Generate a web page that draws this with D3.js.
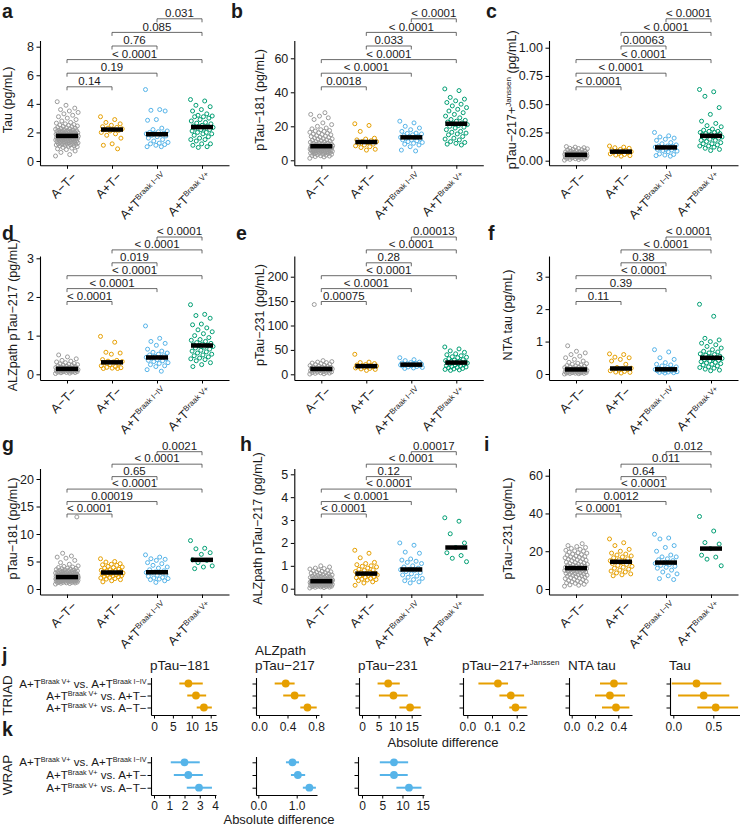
<!DOCTYPE html>
<html>
<head>
<meta charset="utf-8">
<script src="https://cdn.jsdelivr.net/npm/d3@7/dist/d3.min.js"></script>
<style>
html,body{margin:0;padding:0;background:#fff;}
svg{display:block;}
text{font-family:"Liberation Sans",Arial,Helvetica,sans-serif;fill:#1a1a1a;}
</style>
</head>
<body>
<svg id="fig" width="740" height="827"></svg>
<script>
// ================= DATA =================
const groupBase = ["A−T−", "A+T−", "A+T", "A+T"];
const groupSup  = ["", "", "Braak I−IV", "Braak V+"];
const comparisons = [[0,1],[0,2],[0,3],[1,2],[1,3],[2,3]];

// a: Tau (TRIAD)
const tauTicks = [0,2,4,6,8];
const tauATneg = [0.35,0.45,0.6,0.7,0.8,0.85,0.9,0.95,1.0,1.03,1.05,1.08,1.1,1.12,1.13,1.15,1.17,1.18,1.2,1.22,1.25,1.27,1.28,1.3,1.32,1.33,1.35,1.36,1.38,1.4,1.42,1.44,1.45,1.46,1.47,1.48,1.5,1.52,1.53,1.55,1.56,1.57,1.58,1.6,1.61,1.62,1.63,1.64,1.66,1.67,1.68,1.69,1.7,1.71,1.72,1.73,1.74,1.75,1.76,1.77,1.78,1.79,1.8,1.81,1.82,1.83,1.84,1.86,1.87,1.88,1.9,1.91,1.92,1.94,1.95,1.97,1.98,2.0,2.02,2.03,2.05,2.07,2.08,2.1,2.12,2.13,2.15,2.18,2.2,2.22,2.25,2.28,2.3,2.32,2.35,2.4,2.42,2.45,2.5,2.52,2.55,2.6,2.65,2.7,2.8,2.9,3.0,3.1,3.2,3.3,3.4,3.5,3.6,3.7,3.9,4.15];
const tauAposTneg = [3.1,2.9,2.7,2.6,2.5,2.4,2.35,2.3,2.25,2.2,2.2,2.15,2.1,2.0,1.9,1.8,1.6,1.2,1.1,0.85];
const tauBraak14 = [5.0,3.6,3.55,3.5,2.9,2.85,2.3,2.2,2.1,2.05,2.0,1.95,1.9,1.9,1.85,1.8,1.75,1.7,1.6,1.5,1.4,1.3,1.25,1.2,1.15,1.1,1.0,1.0];
const tauBraak5 = [4.3,4.2,3.9,3.8,3.6,3.5,3.3,3.2,3.15,3.1,3.1,3.0,2.9,2.8,2.7,2.65,2.6,2.5,2.45,2.4,2.4,2.35,2.3,2.3,2.2,2.2,2.1,2.0,2.0,1.9,1.9,1.8,1.7,1.6,1.5,1.5,1.4,1.2,1.2,1.1,1.0,0.95];
const tauP = ["0.14","0.19","< 0.0001","0.76","0.085","0.031"];

// b: pTau-181 (TRIAD)
const p181Ticks = [0,20,40,60];
const p181ATneg = [1.2,2,2.2,2.5,2.7,2.8,3,3.3,3.5,3.6,3.8,4,4.1,4.2,4.4,4.5,4.6,4.8,5,5.1,5.2,5.3,5.4,5.5,5.6,5.7,5.8,5.9,6,6.1,6.2,6.3,6.4,6.5,6.6,6.7,6.8,6.9,7,7.1,7.2,7.3,7.4,7.5,7.6,7.7,7.8,7.9,8,8.1,8.2,8.25,8.3,8.4,8.5,8.6,8.7,8.8,9,9.1,9.2,9.4,9.5,9.6,9.8,10,10.1,10.3,10.6,10.8,11,11.3,11.6,11.8,12,12.4,12.6,12.8,13.2,13.4,13.6,14,14.2,14.5,15,15.2,15.5,16,16.2,16.5,17,17.2,17.5,18,18.5,19,20,21,22,24,25,26,27,28];
const p181AposTneg = [21.5,20.5,17,13,12.5,12,11.5,11,11,10.5,10,9.5,9,8.5,8,7.5,6.5,6];
const p181Braak14 = [23,22,20,19,18,17,16,15.8,15.5,15,14.5,14,14,13.5,13.5,13,12.5,12,12,11.5,11,10.5,10,9.5,9,8,6,5.5];
const p181Braak5 = [42,41,37,36,35,34,33,32,31,30,29,28,27,26,25,24,23.5,23,22.5,22,21.5,21,20.5,20,19.5,19,18,17,16.5,16,15.5,15,14,13,12.5,12,11,10.5,10,9.5,9];
const p181P = ["0.0018","< 0.0001","< 0.0001","0.033","< 0.0001","< 0.0001"];

// c: pTau-217+Janssen (TRIAD)
const jansTicks = [0,0.25,0.5,0.75,1];
const jansATneg = [0.005,0.01,0.012,0.015,0.018,0.02,0.022,0.025,0.027,0.028,0.03,0.032,0.034,0.035,0.036,0.038,0.039,0.04,0.041,0.042,0.043,0.044,0.045,0.046,0.047,0.048,0.049,0.05,0.05,0.051,0.052,0.053,0.054,0.055,0.056,0.057,0.058,0.06,0.061,0.062,0.064,0.066,0.067,0.068,0.07,0.073,0.076,0.078,0.08,0.085,0.088,0.09,0.095,0.098,0.1,0.105,0.108,0.11,0.115,0.12,0.125];
const jansAposTneg = [0.13,0.12,0.115,0.11,0.1,0.095,0.09,0.085,0.08,0.08,0.075,0.07,0.065,0.06,0.055,0.05,0.045,0.04];
const jansBraak14 = [0.25,0.22,0.21,0.2,0.19,0.18,0.16,0.15,0.14,0.13,0.13,0.125,0.12,0.12,0.115,0.11,0.11,0.1,0.1,0.095,0.09,0.085,0.08,0.06,0.055,0.05,0.045,0.04];
const jansBraak5 = [0.63,0.61,0.57,0.47,0.41,0.35,0.33,0.31,0.3,0.28,0.27,0.26,0.26,0.25,0.25,0.24,0.24,0.23,0.23,0.22,0.22,0.21,0.21,0.2,0.2,0.19,0.18,0.18,0.17,0.16,0.15,0.15,0.14,0.13,0.13,0.12,0.11,0.1,0.09];
const jansP = ["< 0.0001","< 0.0001","< 0.0001","0.00063","< 0.0001","< 0.0001"];

// d: ALZpath pTau-217 (TRIAD)
const alzTicks = [0,1,2,3];
const alzATneg = [0.02,0.03,0.04,0.045,0.05,0.055,0.06,0.065,0.07,0.075,0.075,0.08,0.085,0.09,0.095,0.095,0.1,0.105,0.11,0.11,0.115,0.12,0.125,0.125,0.13,0.135,0.14,0.145,0.15,0.15,0.155,0.16,0.165,0.17,0.175,0.18,0.19,0.2,0.21,0.22,0.23,0.24,0.25,0.26,0.27,0.28,0.3,0.32,0.34,0.36,0.4,0.45,0.5];
const alzAposTneg = [0.98,0.83,0.57,0.55,0.52,0.38,0.36,0.34,0.33,0.32,0.3,0.28,0.25,0.22,0.2,0.18,0.17,0.16,0.15,0.15];
const alzBraak14 = [1.25,0.93,0.85,0.8,0.75,0.65,0.6,0.57,0.55,0.52,0.5,0.48,0.46,0.44,0.43,0.42,0.4,0.38,0.36,0.35,0.33,0.3,0.28,0.25,0.22,0.2,0.12,0.08];
const alzBraak5 = [1.8,1.55,1.52,1.45,1.3,1.28,1.2,1.15,1.1,1.05,1.0,0.95,0.9,0.88,0.85,0.82,0.8,0.78,0.76,0.75,0.74,0.72,0.7,0.68,0.65,0.62,0.6,0.58,0.55,0.52,0.5,0.48,0.45,0.42,0.4,0.38,0.35,0.3,0.25,0.2];
const alzP = ["< 0.0001","< 0.0001","< 0.0001","0.019","< 0.0001","< 0.0001"];

// e: pTau-231 (TRIAD)
const p231Ticks = [0,50,100,150,200];
const p231ATneg = [0.5,1,2,2.5,3,3.5,4,4.5,5,5.5,6,6.5,7,7.5,8,8.5,9,9.5,10,10.3,10.6,11,11,11.4,11.8,12,12.5,13,13.5,14,14.5,15,16,17,18,19,20,21,22,23,24,25,26,28,143];
const p231AposTneg = [41,25,24,22,20,19,18,17.5,17,16.5,16,15,14,13,12,11,10,8];
const p231Braak14 = [34,30,28,25,24,23,22,21.5,21,20.8,20.5,20,19.5,19,19,18.5,18,17.5,17,16,15,14,13,12];
const p231Braak5 = [56,52,48,45,42,40,38,36,35,34,32,30,29,28,27,26,25,24.5,24,24,23.5,23,22,21,20,19,18,17,16,15,14,13,12,11,10,9,8];
const p231P = ["0.00075","< 0.0001","< 0.0001","0.28","< 0.0001","0.00013"];

// f: NTA tau (TRIAD)
const ntaTicks = [0,1,2,3];
const ntaATneg = [0,0.01,0.015,0.02,0.025,0.03,0.035,0.04,0.045,0.05,0.055,0.06,0.065,0.07,0.075,0.08,0.085,0.09,0.095,0.1,0.105,0.11,0.12,0.12,0.13,0.14,0.14,0.15,0.15,0.16,0.17,0.17,0.18,0.19,0.2,0.21,0.22,0.24,0.25,0.26,0.28,0.3,0.32,0.33,0.36,0.4,0.45,0.5,0.55,0.6,0.65,0.7,0.87];
const ntaAposTneg = [0.62,0.6,0.52,0.5,0.45,0.4,0.3,0.2,0.18,0.16,0.15,0.14,0.12,0.1,0.08,0.06,0.05,0.03];
const ntaBraak14 = [0.75,0.68,0.5,0.45,0.35,0.3,0.28,0.25,0.22,0.2,0.18,0.16,0.15,0.14,0.14,0.13,0.12,0.11,0.1,0.09,0.08,0.07,0.06,0.05,0.04,0.03];
const ntaBraak5 = [2.15,1.78,1.1,1.05,1.0,0.95,0.9,0.85,0.8,0.75,0.7,0.68,0.65,0.62,0.6,0.58,0.55,0.53,0.52,0.5,0.5,0.48,0.46,0.44,0.42,0.4,0.38,0.36,0.34,0.32,0.3,0.28,0.25,0.22,0.2,0.18,0.15,0.12,0.1];
const ntaP = ["0.11","0.39","< 0.0001","0.38","< 0.0001","< 0.0001"];

// g: pTau-181 (WRAP)
const wp181Ticks = [0,5,10,15,20];
const wp181ATneg = [0.9,1.0,1.05,1.1,1.12,1.15,1.2,1.22,1.25,1.28,1.3,1.35,1.38,1.4,1.42,1.45,1.48,1.5,1.5,1.52,1.55,1.58,1.6,1.6,1.62,1.65,1.68,1.7,1.7,1.72,1.75,1.78,1.8,1.8,1.82,1.85,1.87,1.88,1.9,1.9,1.92,1.93,1.95,1.97,1.98,2.0,2.0,2.0,2.02,2.03,2.05,2.07,2.08,2.1,2.1,2.1,2.12,2.13,2.15,2.17,2.18,2.2,2.2,2.23,2.25,2.27,2.28,2.3,2.3,2.33,2.35,2.38,2.4,2.42,2.45,2.48,2.5,2.52,2.55,2.58,2.6,2.62,2.65,2.7,2.72,2.75,2.8,2.85,2.88,2.9,2.95,3.0,3.05,3.1,3.15,3.2,3.25,3.3,3.35,3.4,3.45,3.5,3.55,3.6,3.7,3.75,3.8,3.9,4.0,4.1,4.2,4.5,4.8,5.2,5.6,5.8,6.0,6.5,13.1];
const wp181AposTneg = [5.5,5.0,4.9,4.6,4.5,4.4,4.3,4.1,4.0,3.9,3.8,3.6,3.5,3.4,3.35,3.3,3.2,3.15,3.1,3.0,3.0,2.9,2.9,2.8,2.8,2.75,2.7,2.6,2.5,2.45,2.4,2.3,2.2,2.1,2.0,1.9,1.8,1.7,1.5,1.3];
const wp181Braak14 = [6.2,5.8,5.5,5.4,5.2,4.8,4.6,4.3,4.0,3.8,3.5,3.3,3.1,3.0,3.0,2.9,2.7,2.5,2.3,2.1,2.0,1.9,1.8,1.7,1.5,1.2];
const wp181Braak5 = [8.8,7.4,7.3,6.6,6.3,5.3,5.2,4.8,4.2,4.0,3.7];
const wp181P = ["< 0.0001","0.00019","< 0.0001","0.65","< 0.0001","0.0021"];

// h: ALZpath pTau-217 (WRAP)
const walzTicks = [0,1,2,3,4,5];
const walzATneg = [0.03,0.05,0.06,0.07,0.08,0.09,0.095,0.1,0.11,0.12,0.125,0.13,0.135,0.14,0.15,0.155,0.16,0.165,0.17,0.18,0.185,0.19,0.195,0.2,0.21,0.215,0.22,0.225,0.23,0.24,0.245,0.25,0.255,0.26,0.27,0.275,0.28,0.285,0.29,0.3,0.3,0.305,0.31,0.315,0.32,0.32,0.325,0.33,0.335,0.34,0.345,0.35,0.36,0.365,0.37,0.375,0.38,0.39,0.395,0.4,0.41,0.42,0.43,0.44,0.45,0.46,0.47,0.48,0.49,0.5,0.52,0.53,0.54,0.55,0.57,0.58,0.6,0.62,0.63,0.65,0.66,0.68,0.7,0.72,0.74,0.76,0.78,0.8,0.82,0.86,0.88,0.9,0.95,1.0];
const walzAposTneg = [1.68,1.55,1.35,1.15,1.1,1.05,1.0,0.98,0.95,0.9,0.85,0.82,0.8,0.75,0.72,0.7,0.68,0.66,0.65,0.64,0.62,0.6,0.58,0.55,0.52,0.5,0.48,0.45,0.42,0.4,0.38,0.35,0.3,0.25,0.15];
const walzBraak14 = [2.0,1.9,1.6,1.55,1.3,1.25,1.2,1.15,1.1,1.0,0.95,0.9,0.85,0.83,0.8,0.75,0.7,0.65,0.6,0.55,0.5,0.45,0.4,0.35,0.3,0.25];
const walzBraak5 = [3.1,2.95,2.4,2.0,1.8,1.57,1.45,1.33,1.18];
const walzP = ["< 0.0001","< 0.0001","< 0.0001","0.12","< 0.0001","0.00017"];

// i: pTau-231 (WRAP)
const wp231Ticks = [0,20,40,60];
const wp231ATneg = [1.5,2,2.2,2.5,3,3.2,3.5,3.8,4,4.2,4.5,5,5.2,5.5,5.8,6,6.2,6.5,6.8,7,7.2,7.3,7.6,7.8,8,8.1,8.3,8.6,8.8,9,9.1,9.3,9.5,9.6,9.8,10,10.1,10.2,10.4,10.5,10.6,10.7,10.8,11,11.1,11.2,11.4,11.5,11.6,11.8,12,12.3,12.5,12.6,12.8,13,13.2,13.5,13.8,14,14.2,14.5,15,15.2,15.5,15.8,16,16.2,16.5,16.8,17,17.2,17.5,18,18.2,18.5,19,19.2,19.5,20,20.2,20.5,21,21.5,22,22.5,23,24];
const wp231AposTneg = [26.5,24.5,23,21,20,19,18.5,18,17.5,17,16.5,16,15.5,15,14.8,14.5,14.3,14,13.5,13,12.5,12,11.5,11,10.5,10,9.5,9,8.5,8,7.5,7];
const wp231Braak14 = [29,27,26.5,23,22,20,18,17,17,16,15.5,15,14,13.5,13,12.5,12,11.5,11,10,9,8,7,5.5,5];
const wp231Braak5 = [38.4,30.7,24.6,23.8,21.4,17.9,16.9,15.8,12.3];
const wp231P = ["< 0.0001","0.0012","< 0.0001","0.64","0.011","0.012"];

// j / k: absolute differences [estimate, lower, upper]
// rows: V+ vs I–IV, V+ vs A+T−, V+ vs A−T−
const triadP181    = [[9.1,6.7,12.9],[11.1,8.8,13.8],[13.2,11.3,15.3]];
const triadAlz217  = [[0.375,0.22,0.5],[0.5,0.34,0.65],[0.68,0.58,0.81]];
const triadP231    = [[7.9,4.7,11.4],[9.5,5.1,13.8],[14.5,11.3,17.7]];
const triadJans217 = [[0.124,0.045,0.165],[0.176,0.13,0.23],[0.195,0.17,0.24]];
const triadNta     = [[0.363,0.243,0.477],[0.328,0.2,0.458],[0.38,0.26,0.495]];
const triadTau     = [[0.29,-0.02,0.6],[0.38,0.06,0.7],[0.53,0.3,0.81]];
const wrapP181     = [[2.0,1.1,3.0],[2.25,1.3,3.2],[2.95,2.15,3.8]];
const wrapAlz217   = [[0.89,0.72,1.06],[1.03,0.85,1.22],[1.33,1.16,1.5]];
const wrapP231     = [[7.9,4.4,11.4],[7.9,4.4,11.3],[11.6,8.5,14.7]];
const triadP181Ticks = [0,5,10,15], triadAlzTicks = [0,0.4,0.8], triadP231Ticks = [0,5,10,15];
const triadJansTicks = [0,0.1,0.2], triadNtaTicks = [0,0.2,0.4], triadTauTicks = [0,0.5];
const wrapP181Ticks = [0,1,2,3,4], wrapAlzTicks = [0,1], wrapP231Ticks = [0,5,10,15];
const rowLabels = [
  [["A+T",0],["Braak V+",1],[" vs. A+T",0],["Braak I−IV",1]],
  [["A+T",0],["Braak V+",1],[" vs. A+T−",0]],
  [["A+T",0],["Braak V+",1],[" vs. A−T−",0]]
];

// ================= STYLE / LAYOUT =================
const groupColors = ["#9b9b9b", "#E69F00", "#56B4E9", "#009E73"];
const colX = [40, 294.3, 549];
const rowGeom = [
  {top:40.5, bottom:165.3, bBase:86.8, bStep:13.6, labelY:17.5},
  {top:256, bottom:380, bBase:301.5, bStep:12.9, labelY:240},
  {top:468.5, bottom:594.5, bBase:514, bStep:12.46, labelY:451}
];
const svg = d3.select("#fig");

function addParts(t, parts, supSize, shift) {
  let up = false;
  parts.forEach(([s, sup]) => {
    const sp = t.append("tspan").text(s);
    if (sup) { sp.attr("font-size", supSize); if (!up) { sp.attr("dy", -shift); up = true; } }
    else if (up) { sp.attr("dy", shift); up = false; }
  });
}
const jitter = i => (((i * 0.6180339887) % 1) - 0.5) * 23;

const panels = [
  {L:"a", col:0,row:0, lx:2,   tx:12,    ref:[0,161,8,46.7],     ticks:tauTicks,  fmt:"d",   s:[tauATneg,tauAposTneg,tauBraak14,tauBraak5], p:tauP, title:[["Tau (pg/mL)",0]]},
  {L:"b", col:1,row:0, lx:231, tx:263.5, ref:[0,160.3,60,58.3],  ticks:p181Ticks, fmt:"d",   s:[p181ATneg,p181AposTneg,p181Braak14,p181Braak5], p:p181P, title:[["pTau−181 (pg/mL)",0]]},
  {L:"c", col:2,row:0, lx:486, tx:516,   ref:[0,160.7,1,47.7],   ticks:jansTicks, fmt:".2f", s:[jansATneg,jansAposTneg,jansBraak14,jansBraak5], p:jansP, title:[["pTau−217+",0],["Janssen",1],[" (pg/mL)",0]]},
  {L:"d", col:0,row:1, lx:2,   tx:17,    ref:[0,374.3,3,258.3],  ticks:alzTicks,  fmt:"d",   s:[alzATneg,alzAposTneg,alzBraak14,alzBraak5], p:alzP, title:[["ALZpath pTau−217 (pg/mL)",0]]},
  {L:"e", col:1,row:1, lx:236, tx:263.5, ref:[0,374.3,200,276.7],ticks:p231Ticks, fmt:"d",   s:[p231ATneg,p231AposTneg,p231Braak14,p231Braak5], p:p231P, title:[["pTau−231 (pg/mL)",0]]},
  {L:"f", col:2,row:1, lx:488, tx:511.5, ref:[0,374,3,276.7],    ticks:ntaTicks,  fmt:"d",   s:[ntaATneg,ntaAposTneg,ntaBraak14,ntaBraak5], p:ntaP, title:[["NTA tau (pg/mL)",0]]},
  {L:"g", col:0,row:2, lx:2,   tx:17,    ref:[0,589,20,479],     ticks:wp181Ticks,fmt:"d",   s:[wp181ATneg,wp181AposTneg,wp181Braak14,wp181Braak5], p:wp181P, title:[["pTau−181 (pg/mL)",0]]},
  {L:"h", col:1,row:2, lx:240, tx:262,   ref:[0,588.7,5,474.3],  ticks:walzTicks, fmt:"d",   s:[walzATneg,walzAposTneg,walzBraak14,walzBraak5], p:walzP, title:[["ALZpath pTau−217 (pg/mL)",0]]},
  {L:"i", col:2,row:2, lx:484, tx:511.5, ref:[0,589,60,475.7],   ticks:wp231Ticks,fmt:"d",   s:[wp231ATneg,wp231AposTneg,wp231Braak14,wp231Braak5], p:wp231P, title:[["pTau−231 (pg/mL)",0]]}
];

function styleAxis(a) {
  a.select(".domain").attr("stroke", "#000").attr("stroke-width", 1.1);
  a.selectAll(".tick line").attr("stroke", "#000").attr("stroke-width", 1);
  a.selectAll(".tick text").attr("font-family", '"Liberation Sans",Arial,sans-serif').attr("fill", "#1a1a1a");
}

panels.forEach(p => {
  const ax = colX[p.col], rg = rowGeom[p.row];
  const ref = d3.scaleLinear().domain([p.ref[0], p.ref[2]]).range([p.ref[1], p.ref[3]]);
  const y = d3.scaleLinear().domain([ref.invert(rg.bottom), ref.invert(rg.top)]).range([rg.bottom, rg.top]);
  const x = d3.scalePoint().domain([0,1,2,3]).range([ax, ax + 189]).padding(0.6);
  const g = svg.append("g");

  const ya = g.append("g").attr("transform", `translate(${ax},0)`)
    .call(d3.axisLeft(y).tickValues(p.ticks).tickFormat(d3.format(p.fmt)).tickSize(3.5).tickSizeOuter(0).tickPadding(2.5));
  ya.selectAll(".tick text").attr("font-size", 12.5);
  styleAxis(ya);
  const xa = g.append("g").attr("transform", `translate(0,${rg.bottom})`)
    .call(d3.axisBottom(x).tickSize(3.5).tickSizeOuter(0).tickFormat(""));
  styleAxis(xa);

  p.s.forEach((vals, gi) => {
    g.append("g").selectAll("circle").data(vals).join("circle")
      .attr("cx", (d, i) => x(gi) + jitter(i))
      .attr("cy", d => y(d))
      .attr("r", 2.0)
      .attr("fill", "none")
      .attr("stroke", groupColors[gi])
      .attr("stroke-width", 1.0);
  });
  p.s.forEach((vals, gi) => {
    const m = d3.median(vals);
    g.append("line").attr("x1", x(gi) - 11).attr("x2", x(gi) + 11)
      .attr("y1", y(m)).attr("y2", y(m)).attr("stroke", "#000").attr("stroke-width", 4.5);
  });
  comparisons.forEach(([c0, c1], k) => {
    const by = rg.bBase - k * rg.bStep;
    g.append("path").attr("d", `M${x(c0)},${by + 3.5}V${by}H${x(c1)}V${by + 3.5}`)
      .attr("fill", "none").attr("stroke", "#444").attr("stroke-width", 0.8);
    g.append("text").attr("x", (x(c0) + x(c1)) / 2).attr("y", by - 1.8)
      .attr("text-anchor", "middle").attr("font-size", 11.5).text(p.p[k]);
  });
  [0,1,2,3].forEach(gi => {
    const t = g.append("text")
      .attr("transform", `translate(${x(gi) + 4},${rg.bottom + 6}) rotate(-45)`)
      .attr("text-anchor", "end").attr("dy", "0.72em").attr("font-size", 12.5);
    const parts = [[groupBase[gi], 0]];
    if (groupSup[gi]) parts.push([groupSup[gi], 1]);
    addParts(t, parts, 7.8, 4.5);
  });
  const tt = g.append("text")
    .attr("transform", `translate(${p.tx},${(rg.top + rg.bottom) / 2 - 3}) rotate(-90)`)
    .attr("text-anchor", "middle").attr("font-size", 12.5);
  addParts(tt, p.title, 8, 5);
  g.append("text").attr("x", p.lx).attr("y", rg.labelY).attr("font-size", 19.5).attr("font-weight", "bold").text(p.L);
});

// ================= FOREST PLOTS =================
const forestGeom = [
  {rows:[683.5,695.5,707.5], top:678, bottom:715, color:"#E69F00", pad:3.5},
  {rows:[762.3,775,787.7], top:757, bottom:795, color:"#56B4E9", pad:2.5}
];
const forests = [
  {r:0, d:triadP181,    ticks:triadP181Ticks, fmt:"d",   ref:[0,154,15,210.7],   x0:151, x1:216, title:[[["pTau−181",0]]]},
  {r:0, d:triadAlz217,  ticks:triadAlzTicks,  fmt:".1f", ref:[0,259,0.8,316],    x0:256, x1:319, title:[[["ALZpath",0]],[["pTau−217",0]]]},
  {r:0, d:triadP231,    ticks:triadP231Ticks, fmt:"d",   ref:[0,362,15,411.7],   x0:359, x1:421, title:[[["pTau−231",0]]]},
  {r:0, d:triadJans217, ticks:triadJansTicks, fmt:".1f", ref:[0,467.3,0.2,516.7],x0:463, x1:527, title:[[["pTau−217+",0],["Janssen",1]]]},
  {r:0, d:triadNta,     ticks:triadNtaTicks,  fmt:".1f", ref:[0,571.7,0.4,618.3],x0:569, x1:632, title:[[["NTA tau",0]]]},
  {r:0, d:triadTau,     ticks:triadTauTicks,  fmt:".1f", ref:[0,673.3,0.5,713.3],x0:670, x1:740, title:[[["Tau",0]]]},
  {r:1, d:wrapP181,     ticks:wrapP181Ticks,  fmt:"d",   ref:[0,154,4,215],      x0:151, x1:216, title:[]},
  {r:1, d:wrapAlz217,   ticks:wrapAlzTicks,   fmt:".1f", ref:[0,258.3,1,296.7],  x0:256, x1:317, title:[]},
  {r:1, d:wrapP231,     ticks:wrapP231Ticks,  fmt:"d",   ref:[0,362,15,422.7],   x0:358, x1:424, title:[]}
];

forests.forEach(f => {
  const fg = forestGeom[f.r];
  const ref = d3.scaleLinear().domain([f.ref[0], f.ref[2]]).range([f.ref[1], f.ref[3]]);
  const x = d3.scaleLinear().domain([ref.invert(f.x0), ref.invert(f.x1)]).range([f.x0, f.x1]);
  const y = d3.scalePoint().domain([0,1,2]).range([fg.rows[0], fg.rows[2]]);
  const g = svg.append("g");
  const xa = g.append("g").attr("transform", `translate(0,${fg.bottom})`)
    .call(d3.axisBottom(x).tickValues(f.ticks).tickFormat(d3.format(f.fmt)).tickSize(3.5).tickSizeOuter(0).tickPadding(fg.pad));
  xa.selectAll(".tick text").attr("font-size", 12);
  styleAxis(xa);
  const ya = g.append("g").attr("transform", `translate(${f.x0},0)`)
    .call(d3.axisLeft(y).tickSize(3.5).tickFormat(""));
  ya.select(".domain").remove();
  styleAxis(ya);
  g.append("line").attr("x1", f.x0 + 0.5).attr("x2", f.x0 + 0.5).attr("y1", fg.top).attr("y2", fg.bottom + 0.5)
    .attr("stroke", "#000").attr("stroke-width", 1.1);
  f.d.forEach((row, i) => {
    g.append("line").attr("x1", x(row[1])).attr("x2", x(row[2])).attr("y1", y(i)).attr("y2", y(i))
      .attr("stroke", fg.color).attr("stroke-width", 2);
    g.append("circle").attr("cx", x(row[0])).attr("cy", y(i)).attr("r", 3.9).attr("fill", fg.color);
  });
  const nLines = f.title.length;
  f.title.forEach((line, li) => {
    const t = g.append("text").attr("x", f.x0 - 1).attr("y", 670 - (nLines - 1 - li) * 15).attr("font-size", 13.5);
    addParts(t, line, 8, 5.5);
  });
});

forestGeom.forEach(fg => {
  const y = d3.scalePoint().domain([0,1,2]).range([fg.rows[0], fg.rows[2]]);
  rowLabels.forEach((parts, i) => {
    const t = svg.append("text").attr("x", 146.5).attr("y", y(i)).attr("dy", "0.36em")
      .attr("text-anchor", "end").attr("font-size", 11.6);
    addParts(t, parts, 7.2, 4);
  });
});

svg.append("text").attr("transform", "translate(12,695.5) rotate(-90)").attr("text-anchor", "middle").attr("font-size", 13.5).text("TRIAD");
svg.append("text").attr("transform", "translate(12,775) rotate(-90)").attr("text-anchor", "middle").attr("font-size", 13.5).text("WRAP");
svg.append("text").attr("x", 2).attr("y", 662).attr("font-size", 19.5).attr("font-weight", "bold").text("j");
svg.append("text").attr("x", 2).attr("y", 736).attr("font-size", 19.5).attr("font-weight", "bold").text("k");
svg.append("text").attr("x", 443).attr("y", 746.5).attr("text-anchor", "middle").attr("font-size", 13).text("Absolute difference");
svg.append("text").attr("x", 279).attr("y", 824).attr("text-anchor", "middle").attr("font-size", 13).text("Absolute difference");
</script>
</body>
</html>
